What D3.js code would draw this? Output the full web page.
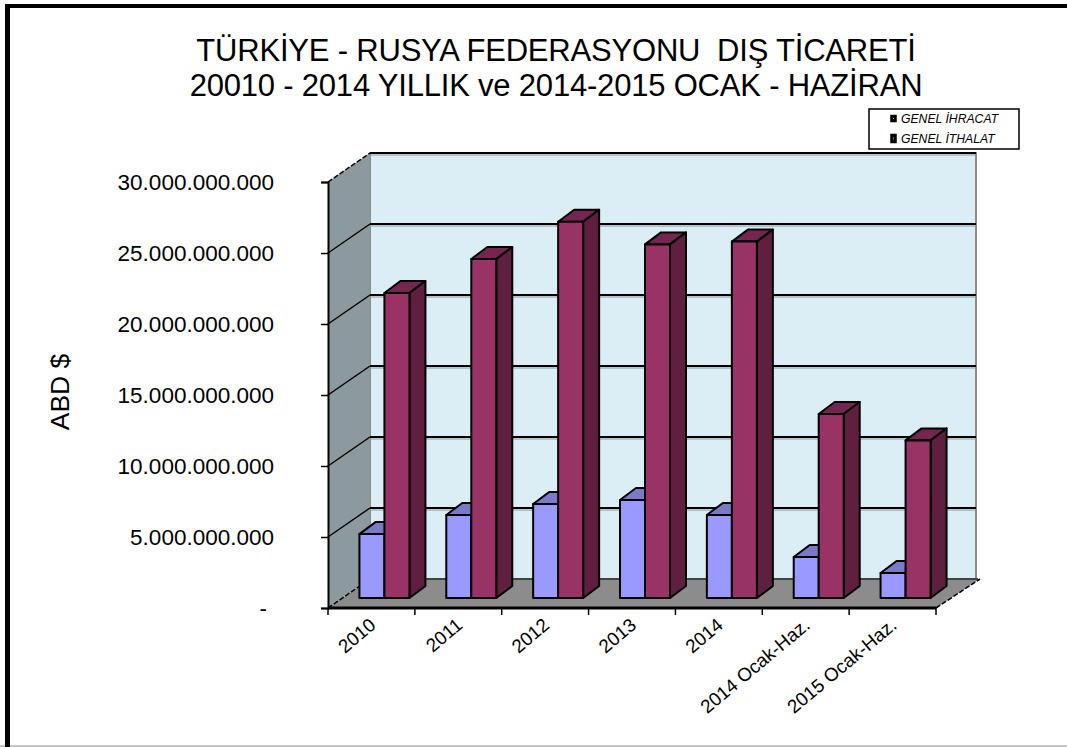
<!DOCTYPE html>
<html>
<head>
<meta charset="utf-8">
<script src="https://cdn.jsdelivr.net/npm/d3@7"></script>
<style>
    html, body { margin: 0; padding: 0; background: #fff; overflow: hidden; }
    svg { display: block; }
    text { font-family: "Liberation Sans", Arial, sans-serif; fill: #000; white-space: pre; }
</style>
</head>
<body>
<svg id="chart" width="1067" height="747"></svg>
<script>
    const categories = ['2010', '2011', '2012', '2013', '2014', '2014 Ocak-Haz.', '2015 Ocak-Haz.'];
    const ihracat = [4.5, 5.85, 6.62, 6.9, 5.85, 2.89, 1.76].map(d => d * 1e9);
    const ithalat = [21.48, 23.87, 26.5, 24.9, 25.1, 12.96, 11.1].map(d => d * 1e9);
    const yTicks = [0, 5e9, 10e9, 15e9, 20e9, 25e9, 30e9];
    const titleLines = ['TÜRKİYE - RUSYA FEDERASYONU  DIŞ TİCARETİ', '20010 - 2014 YILLIK ve 2014-2015 OCAK - HAZİRAN'];
    const legendNames = ['GENEL İHRACAT', 'GENEL İTHALAT'];

    const svg = d3.select('#chart');

    // outer frame (only top and left show, the rest is cut off)
    svg.append('rect').attr('x', 0).attr('y', 745).attr('width', 1067).attr('height', 2).attr('fill', '#c4c4c4');
    svg.append('rect').attr('x', 5).attr('y', 4).attr('width', 1062).attr('height', 4).attr('fill', '#000');
    svg.append('rect').attr('x', 5).attr('y', 4).attr('width', 5).attr('height', 743).attr('fill', '#000');

    const x = d3.scaleBand().domain(categories).range([328, 936]);
    const y = d3.scaleLinear().domain([0, 30e9]).range([608, 182]);

    // 3d offsets: back wall, and front plane of the bars
    const depth = {dx: 42, dy: -29};
    const barPlane = {dx: 13, dy: -10};
    const barDepth = {dx: 16, dy: -12};
    const barW = 25;
    const wallRight = 976;

    const poly = pts => 'M' + pts.map(p => p.join(',')).join('L') + 'Z';
    const g = svg.append('g');

    // back wall
    g.append('rect')
        .attr('x', 328 + depth.dx).attr('y', y(30e9) + depth.dy)
        .attr('width', wallRight - 328 - depth.dx).attr('height', y(0) - y(30e9))
        .attr('fill', '#dbeef5').attr('stroke', '#8c8c8c').attr('stroke-width', 2);

    // side wall
    g.append('path')
        .attr('d', poly([[328, y(30e9)], [328 + depth.dx, y(30e9) + depth.dy], [328 + depth.dx, y(0) + depth.dy], [328, y(0)]]))
        .attr('fill', '#8c9a9e');

    // floor
    g.append('path')
        .attr('d', poly([[328, y(0)], [328 + depth.dx, y(0) + depth.dy], [936 + depth.dx + 2, y(0) + depth.dy], [936, y(0)]]))
        .attr('fill', '#8c8c8c');

    // gridlines on the back wall and side wall
    yTicks.forEach(t => {
        if (t > 0) {
            g.append('line')
                .attr('x1', 328 + depth.dx).attr('x2', wallRight)
                .attr('y1', y(t) + depth.dy).attr('y2', y(t) + depth.dy)
                .attr('stroke', '#000').attr('stroke-width', 2);
            g.append('line')
                .attr('x1', 328 + depth.dx).attr('x2', wallRight)
                .attr('y1', y(t) + depth.dy + 2).attr('y2', y(t) + depth.dy + 2)
                .attr('stroke', '#8c9a9e').attr('stroke-width', 1);
        }
        g.append('line')
            .attr('x1', 328).attr('x2', 328 + depth.dx)
            .attr('y1', y(t)).attr('y2', y(t) + depth.dy)
            .attr('stroke', '#000').attr('stroke-width', 1.5).attr('stroke-dasharray', t > 0 && t < 30e9 ? null : '5 2');
    });
    g.append('line')
        .attr('x1', 328 + depth.dx).attr('x2', wallRight + 2)
        .attr('y1', y(0) + depth.dy).attr('y2', y(0) + depth.dy)
        .attr('stroke', '#444').attr('stroke-width', 2);
    g.append('line')
        .attr('x1', 936).attr('x2', 936 + depth.dx + 2)
        .attr('y1', y(0)).attr('y2', y(0) + depth.dy)
        .attr('stroke', '#000').attr('stroke-width', 1.5).attr('stroke-dasharray', '5 2');

    // bars, drawn left to right so each one covers the last
    function drawBar(px, value, front, top, side) {
        const b = y(0) + barPlane.dy;
        const t = y(value) + barPlane.dy;
        const bar = g.append('g').attr('stroke', '#000').attr('stroke-width', 2).attr('stroke-linejoin', 'round');
        bar.append('path').attr('fill', top)
            .attr('d', poly([[px, t], [px + barDepth.dx, t + barDepth.dy], [px + barW + barDepth.dx, t + barDepth.dy], [px + barW, t]]));
        bar.append('path').attr('fill', side)
            .attr('d', poly([[px + barW, t], [px + barW + barDepth.dx, t + barDepth.dy], [px + barW + barDepth.dx, b + barDepth.dy], [px + barW, b]]));
        bar.append('rect').attr('fill', front)
            .attr('x', px).attr('y', t).attr('width', barW).attr('height', b - t);
    }
    categories.forEach((c, i) => {
        const cx = x(c) + x.bandwidth() / 2 + barPlane.dx;
        drawBar(cx - barW, ihracat[i], '#9999ff', '#7a7ac8', '#5f5fa0');
        drawBar(cx, ithalat[i], '#993366', '#722650', '#5f2040');
    });

    // y axis
    const fmt = d => d === 0 ? '-' : d3.format(',')(d).replace(/,/g, '.');
    const yAxis = d3.axisLeft(y).tickValues(yTicks).tickFormat(fmt).tickSize(7).tickPadding(9);
    const yG = svg.append('g').attr('transform', 'translate(328,0)').call(yAxis);
    yG.selectAll('path').attr('stroke', '#000').attr('stroke-width', 2);
    yG.selectAll('line').attr('stroke', '#000').attr('stroke-width', 1.5);
    yG.selectAll('text').attr('font-size', 22.5).attr('dx', -38);
    yG.selectAll('.tick').filter(d => d === 0).select('text').attr('dx', -45);

    // x axis
    const edges = categories.map(c => x(c)).concat([936]);
    const xG = svg.append('g');
    xG.append('line').attr('x1', 328).attr('x2', 936).attr('y1', 608).attr('y2', 608)
        .attr('stroke', '#000').attr('stroke-width', 3);
    xG.selectAll('line.tick').data(edges).enter().append('line').attr('class', 'tick')
        .attr('x1', d => d).attr('x2', d => d).attr('y1', 608).attr('y2', 615)
        .attr('stroke', '#000').attr('stroke-width', 1.5);
    xG.selectAll('text').data(categories).enter().append('text')
        .attr('text-anchor', 'end').attr('font-size', 18.8)
        .attr('transform', d => 'translate(' + (x(d) + x.bandwidth() / 2 - 3) + ',617) rotate(-40)')
        .attr('dy', '0.7em')
        .text(d => d);

    // title
    svg.selectAll('text.title').data(titleLines).enter().append('text').attr('class', 'title')
        .attr('x', 556).attr('y', (d, i) => 60.5 + i * 35.5)
        .attr('text-anchor', 'middle').attr('font-size', 31).style('letter-spacing', '-0.2px')
        .text(d => d);

    // y title
    svg.append('text')
        .attr('transform', 'translate(69,392) rotate(-90)')
        .attr('text-anchor', 'middle').attr('font-size', 26.5)
        .text('ABD $');

    // legend
    svg.append('rect').attr('x', 869).attr('y', 109).attr('width', 150).attr('height', 40)
        .attr('fill', '#fff').attr('stroke', '#000').attr('stroke-width', 1.5);
    const legendColors = ['#9999ff', '#993366'];
    legendNames.forEach((name, i) => {
        const ly = 119 + i * 20;
        svg.append('rect').attr('x', 891).attr('y', ly - 3.5 - i).attr('width', 5).attr('height', 6 + i * 2)
            .attr('fill', '#000').attr('stroke', '#000').attr('stroke-width', 1.5);
        svg.append('rect').attr('x', 893).attr('y', ly - 1 - i).attr('width', 1).attr('height', 1 + i * 2)
            .attr('fill', legendColors[i]);
        svg.append('text').attr('x', 901).attr('y', ly + 4)
            .attr('font-size', 12.2).attr('font-style', 'italic').text(name);
    });
</script>
</body>
</html>
